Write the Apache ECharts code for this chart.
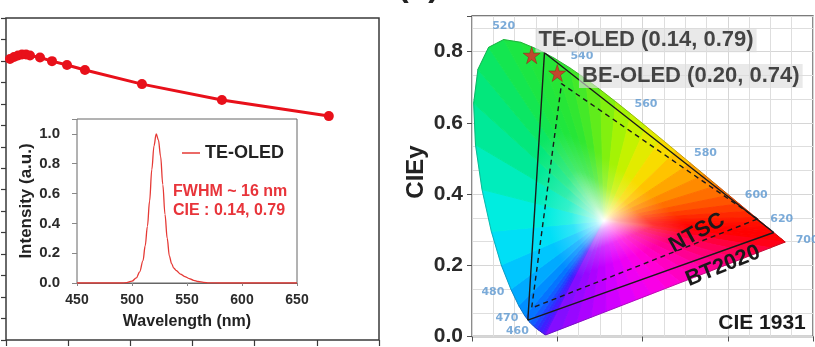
<!DOCTYPE html>
<html><head><meta charset="utf-8">
<script src="https://cdn.jsdelivr.net/npm/echarts@6/dist/echarts.min.js"></script>
<style>html,body{margin:0;padding:0;background:#fff}#c{width:815px;height:347px}</style>
</head><body><div id="c"></div>
<script>
// ---------- data: left main curve (axis units arbitrary; labels cropped) ----------
const mainX = [0.064, 0.129, 0.193, 0.257, 0.322, 0.386, 0.547, 0.740, 0.981, 1.27, 2.187, 3.473, 5.193];
const mainY = [13.09, 13.18, 13.25, 13.30, 13.30, 13.25, 13.16, 12.99, 12.81, 12.58, 11.92, 11.18, 10.43];

// ---------- data: inset EL spectrum ----------
const specWl  = [450, 470, 490, 495, 500, 504, 507, 510, 512, 514, 516, 518, 520, 522, 524, 526, 528, 530, 532, 534, 536, 538, 540, 544, 548, 552, 556, 560, 565, 570, 580, 600, 620, 650];
const specInt = [0, 0, 0, 0.002, 0.012, 0.035, 0.075, 0.15, 0.25, 0.38, 0.55, 0.76, 0.92, 1.0, 0.96, 0.85, 0.66, 0.46, 0.30, 0.18, 0.13, 0.10, 0.085, 0.06, 0.043, 0.03, 0.018, 0.01, 0.004, 0.001, 0, 0, 0, 0];
const specXTicks = [450, 500, 550, 600, 650];
const specYTicks = [0.0, 0.2, 0.4, 0.6, 0.8, 1.0];

// ---------- data: CIE 1931 spectral locus ----------
const locusWl = [380, 400, 420, 430, 440, 450, 455, 460, 465, 470, 475, 480, 485, 490, 495, 500, 505, 510, 515, 520, 525, 530, 535, 540, 545, 550, 555, 560, 565, 570, 575, 580, 585, 590, 595, 600, 605, 610, 615, 620, 625, 630, 640, 650, 660, 680, 700];
const locusX = [0.1741, 0.1733, 0.1714, 0.1689, 0.1644, 0.1566, 0.1510, 0.1440, 0.1355, 0.1241, 0.1096, 0.0913, 0.0687, 0.0454, 0.0235, 0.0082, 0.0039, 0.0139, 0.0389, 0.0743, 0.1142, 0.1547, 0.1929, 0.2296, 0.2658, 0.3016, 0.3373, 0.3731, 0.4087, 0.4441, 0.4788, 0.5125, 0.5448, 0.5752, 0.6029, 0.6270, 0.6482, 0.6658, 0.6801, 0.6915, 0.7006, 0.7079, 0.7190, 0.7260, 0.7300, 0.7334, 0.7347];
const locusY = [0.0050, 0.0048, 0.0051, 0.0069, 0.0109, 0.0177, 0.0227, 0.0297, 0.0399, 0.0578, 0.0868, 0.1327, 0.2007, 0.2950, 0.4127, 0.5384, 0.6548, 0.7502, 0.8120, 0.8338, 0.8262, 0.8059, 0.7816, 0.7543, 0.7243, 0.6923, 0.6589, 0.6245, 0.5896, 0.5547, 0.5202, 0.4866, 0.4544, 0.4242, 0.3965, 0.3725, 0.3514, 0.3340, 0.3197, 0.3083, 0.2993, 0.2920, 0.2809, 0.2740, 0.2700, 0.2666, 0.2653];
const whitePoint = [0.31, 0.325];

// gamut triangles
const bt2020X = [0.708, 0.170, 0.131, 0.708];
const bt2020Y = [0.292, 0.797, 0.046, 0.292];
const ntscX = [0.67, 0.21, 0.14, 0.67];
const ntscY = [0.33, 0.71, 0.08, 0.33];

// devices
const devNames = ['TE-OLED', 'BE-OLED'];
const devX = [0.14, 0.20];
const devY = [0.79, 0.74];

// wavelength labels along the locus
const wlLabels = [460, 470, 480, 520, 540, 560, 580, 600, 620, 700];

// ---------- styles ----------
const FONT = 'Liberation Sans, Arial, sans-serif';
const wlOffset = {460: [-16, 5], 470: [-18, 2], 480: [-18, 3], 520: [0, -13], 540: [12, -12], 560: [15, -10], 580: [15, -10], 600: [17, -9], 620: [15, -8], 700: [22, -2]};
const locusColor = {
  380: '#7a10ff', 400: '#7410ff', 420: '#6a10ff', 430: '#5a10ff', 440: '#4818ff', 450: '#3428ff', 455: '#2438ff', 460: '#1850ff', 465: '#0a68ff', 470: '#0080ff', 475: '#009cff', 480: '#00b8ff', 485: '#00d4fc', 490: '#00eaf0', 495: '#00f0d0', 500: '#00eaa8', 505: '#00e888', 510: '#06e670', 515: '#10e658', 520: '#18e648', 525: '#1ee640', 530: '#22e63a', 535: '#2ae634', 540: '#38e82e', 545: '#50ea22', 550: '#70ee14', 555: '#94f20a', 560: '#b4f400', 565: '#d4f000', 570: '#f0e600', 575: '#ffd200', 580: '#ffb400', 585: '#ff9800', 590: '#ff7c00', 595: '#ff6000', 600: '#ff4800', 605: '#ff3000', 610: '#ff2000', 615: '#ff1200', 620: '#ff0a00', 625: '#ff0400', 630: '#ff0000', 640: '#ff0000', 650: '#ff0000', 660: '#ff0000', 680: '#ff0000', 700: '#ff0000'
};
const purpleStops = ['#ff0010', '#ff0060', '#ff00a8', '#ff00e0', '#e000ff', '#b000ff', '#7a10ff'];

function hexRgb(h) { return [parseInt(h.slice(1, 3), 16), parseInt(h.slice(3, 5), 16), parseInt(h.slice(5, 7), 16)]; }
function rgbStr(c) { return 'rgb(' + c.map(v => Math.round(v)).join(',') + ')'; }
function lerpC(a, b, t) { return [a[0] + (b[0] - a[0]) * t, a[1] + (b[1] - a[1]) * t, a[2] + (b[2] - a[2]) * t]; }
function purpleColor(t) {
  const n = purpleStops.length - 1, f = Math.min(n - 1e-9, t * n), i = Math.floor(f);
  return lerpC(hexRgb(purpleStops[i]), hexRgb(purpleStops[i + 1]), f - i);
}
function gradStops(c) {
  const w = [255, 255, 255];
  return [
    {offset: 0, color: '#ffffff'},
    {offset: 0.08, color: rgbStr(lerpC(w, c, 0.3))},
    {offset: 0.28, color: rgbStr(lerpC(w, c, 0.8))},
    {offset: 0.5, color: rgbStr(c)},
    {offset: 1, color: rgbStr(c)}
  ];
}

function renderHorseshoe(params, api) {
  const W = api.coord(whitePoint);
  const pts = [];
  for (let i = 0; i < locusWl.length; i++) {
    pts.push({p: api.coord([locusX[i], locusY[i]]), c: hexRgb(locusColor[locusWl[i]])});
  }
  // purple line (from 700 nm back to 380 nm) split for colour shading
  const a = api.coord([locusX[locusX.length - 1], locusY[locusY.length - 1]]);
  const b = api.coord([locusX[0], locusY[0]]);
  const n = 16;
  for (let k = 1; k < n; k++) {
    const t = k / n;
    pts.push({p: [a[0] + (b[0] - a[0]) * t, a[1] + (b[1] - a[1]) * t], c: purpleColor(t)});
  }
  const children = [];
  for (let i = 0; i < pts.length; i++) {
    const p1 = pts[i], p2 = pts[(i + 1) % pts.length];
    const mid = [(p1.p[0] + p2.p[0]) / 2, (p1.p[1] + p2.p[1]) / 2];
    const col = lerpC(p1.c, p2.c, 0.5);
    const g = new echarts.graphic.LinearGradient(W[0], W[1], mid[0], mid[1], gradStops(col), true);
    children.push({type: 'polygon', shape: {points: [W, p1.p, p2.p]}, style: {fill: g, stroke: g, lineWidth: 1}});
  }
  const outline = pts.map(o => o.p);
  children.push({type: 'polygon', shape: {points: outline}, style: {fill: 'none', stroke: 'rgba(40,40,40,0.35)', lineWidth: 0.8}});
  return {type: 'group', children: children};
}

const chart = echarts.init(document.getElementById('c'), null, {renderer: 'canvas'});
const tickLabel = {fontFamily: FONT, fontWeight: 'bold', color: '#2a2a2a'};

const option = {
  animation: false,
  backgroundColor: '#ffffff',
  grid: [
    {left: 6, top: 18, width: 373, height: 322, show: true, borderColor: '#3a3a3a', borderWidth: 1.5, backgroundColor: 'transparent'},
    {left: 77, top: 119, width: 220, height: 164, show: true, borderColor: '#666', borderWidth: 1, backgroundColor: '#ffffff', z: 3},
    {left: 472, top: 16, width: 341, height: 326, show: true, borderColor: '#505050', borderWidth: 1.3, backgroundColor: '#ffffff'}
  ],
  xAxis: [
    {gridIndex: 0, type: 'value', min: 0, max: 6, interval: 1, axisLine: {show: false},
      axisTick: {show: true, length: 6, lineStyle: {color: '#3a3a3a', width: 1.2}}, axisLabel: {show: false}, splitLine: {show: false}},
    {gridIndex: 1, type: 'value', min: specXTicks[0], max: specXTicks[specXTicks.length - 1], interval: 50, z: 4,
      axisLine: {show: true, lineStyle: {color: '#666'}}, axisTick: {show: true, length: 3, lineStyle: {color: '#888'}},
      axisLabel: Object.assign({fontSize: 14, margin: 10}, tickLabel), splitLine: {show: false},
      name: 'Wavelength (nm)', nameLocation: 'middle', nameGap: 31,
      nameTextStyle: {fontFamily: FONT, fontWeight: 'bold', fontSize: 16, color: '#222'}},
    {gridIndex: 2, type: 'value', min: 0, max: 0.8, interval: 0.2, axisLine: {show: false},
      axisTick: {show: true, length: 5, lineStyle: {color: '#505050'}}, axisLabel: {show: false},
      minorTick: {show: false, splitNumber: 4},
      splitLine: {show: true, lineStyle: {color: '#d6d6d6', width: 1}},
      minorSplitLine: {show: true, lineStyle: {color: '#dedede', width: 1}}}
  ],
  yAxis: [
    {gridIndex: 0, type: 'value', min: 0, max: 15, interval: 1, axisLine: {show: false},
      axisTick: {show: true, length: 5, lineStyle: {color: '#3a3a3a', width: 1.2}}, axisLabel: {show: false}, splitLine: {show: false}},
    {gridIndex: 1, type: 'value', min: 0, max: 1.1, interval: 0.2, z: 4,
      axisLine: {show: false}, axisTick: {show: true, length: 5, lineStyle: {color: '#888'}},
      axisLabel: Object.assign({fontSize: 15, margin: 17, formatter: v => v > 1.05 ? '' : v.toFixed(1)}, tickLabel),
      splitLine: {show: false},
      name: 'Intensity (a.u.)', nameLocation: 'middle', nameGap: 41, nameRotate: 90,
      nameTextStyle: {fontFamily: FONT, fontWeight: 'bold', fontSize: 17, color: '#222'}},
    {gridIndex: 2, type: 'value', min: 0, max: 0.9, interval: 0.2, axisLine: {show: false},
      axisTick: {show: true, length: 5, lineStyle: {color: '#505050'}},
      axisLabel: Object.assign({fontSize: 21, margin: 9, formatter: v => v > 0.85 ? '' : v.toFixed(1)}, tickLabel),
      minorTick: {show: false, splitNumber: 3},
      splitLine: {show: true, lineStyle: {color: '#d6d6d6', width: 1}},
      minorSplitLine: {show: true, lineStyle: {color: '#dedede', width: 1}}}
  ],
  legend: {
    data: ['TE-OLED'], left: 182, top: 144, padding: 0, icon: 'rect', itemWidth: 18, itemHeight: 1.5, selectedMode: false, z: 6,
    textStyle: {fontFamily: FONT, fontWeight: 'bold', fontSize: 18, color: '#222'}
  },
  graphic: [
    {type: 'text', left: 398, top: -29, z: 10, style: {text: '(b)', font: 'bold 32px ' + FONT, fill: '#222'}},
    {type: 'text', x: 173, y: 192, z: 10, style: {text: 'FWHM ~ 16 nm', font: 'bold 16px ' + FONT, fill: '#e8343a', verticalAlign: 'middle'}},
    {type: 'text', x: 173, y: 211, z: 10, style: {text: 'CIE : 0.14, 0.79', font: 'bold 16px ' + FONT, fill: '#e8343a', verticalAlign: 'middle'}},
    {type: 'text', x: 416, y: 172, rotation: Math.PI / 2, z: 10, style: {text: 'CIEy', font: 'bold 24px ' + FONT, fill: '#222', align: 'center', verticalAlign: 'middle'}},
    {type: 'text', x: 697, y: 233, rotation: 29 * Math.PI / 180, z: 10, style: {text: 'NTSC', font: 'bold 22px ' + FONT, fill: '#1a1a1a', align: 'center', verticalAlign: 'middle'}},
    {type: 'text', x: 723, y: 266, rotation: 22 * Math.PI / 180, z: 10, style: {text: 'BT2020', font: 'bold 22px ' + FONT, fill: '#1a1a1a', align: 'center', verticalAlign: 'middle'}},
    {type: 'text', x: 762, y: 323, z: 10, style: {text: 'CIE 1931', font: 'bold 21px ' + FONT, fill: '#1a1a1a', align: 'center', verticalAlign: 'middle'}}
  ],
  series: [
    {type: 'line', xAxisIndex: 0, yAxisIndex: 0, data: mainX.map((x, i) => [x, mainY[i]]),
      symbol: 'circle', symbolSize: 10, itemStyle: {color: '#e8101a'}, lineStyle: {color: '#e8101a', width: 3}, silent: true, z: 2},
    {type: 'line', name: 'TE-OLED', xAxisIndex: 1, yAxisIndex: 1, data: specWl.map((w, i) => [w, specInt[i]]),
      showSymbol: false, symbol: 'none', smooth: 0.35, smoothMonotone: 'x', itemStyle: {color: '#e53935'},
      lineStyle: {color: '#e53935', width: 1.3}, silent: true, z: 5},
    {type: 'custom', xAxisIndex: 2, yAxisIndex: 2, data: [[0, 0]], renderItem: renderHorseshoe, silent: true, z: 2},
    {type: 'line', xAxisIndex: 2, yAxisIndex: 2, data: bt2020X.map((x, i) => [x, bt2020Y[i]]), symbol: 'none',
      lineStyle: {color: '#1a1a1a', width: 1.4}, silent: true, z: 3},
    {type: 'line', xAxisIndex: 2, yAxisIndex: 2, data: ntscX.map((x, i) => [x, ntscY[i]]), symbol: 'none',
      lineStyle: {color: '#1a1a1a', width: 1.4, type: [5, 4]}, silent: true, z: 3},
    {type: 'scatter', xAxisIndex: 2, yAxisIndex: 2, silent: true, z: 6,
      symbol: 'path://M50,0 L61,35 L98,35 L68,57 L79,91 L50,70 L21,91 L32,57 L2,35 L39,35 Z', symbolSize: 17,
      itemStyle: {color: '#e8202a', borderColor: '#8a1010', borderWidth: 0.5},
      data: devNames.map((n, i) => ({
        value: [devX[i], devY[i]], name: n,
        label: {offset: i === 0 ? [-10, -15] : [8, 3]}
      })),
      label: {show: true, position: 'right', formatter: p => p.name + ' (' + devX[p.dataIndex].toFixed(2) + ', ' + devY[p.dataIndex].toFixed(2) + ')',
        fontFamily: FONT, fontWeight: 'bold', fontSize: 22, color: '#1a1a1a', backgroundColor: 'rgba(220,220,220,0.78)', padding: [1, 3]}},
    {type: 'scatter', xAxisIndex: 2, yAxisIndex: 2, silent: true, z: 5, symbolSize: 0,
      data: wlLabels.map(w => {
        const i = locusWl.indexOf(w);
        return {value: [locusX[i], locusY[i]], name: String(w), label: {offset: wlOffset[w]}};
      }),
      label: {show: true, position: 'inside', formatter: '{b}', fontFamily: 'DejaVu Sans, sans-serif', fontWeight: 'bold', fontSize: 11, color: '#5a96cf'}}
  ]
};
chart.setOption(option);
</script>
</body></html>
